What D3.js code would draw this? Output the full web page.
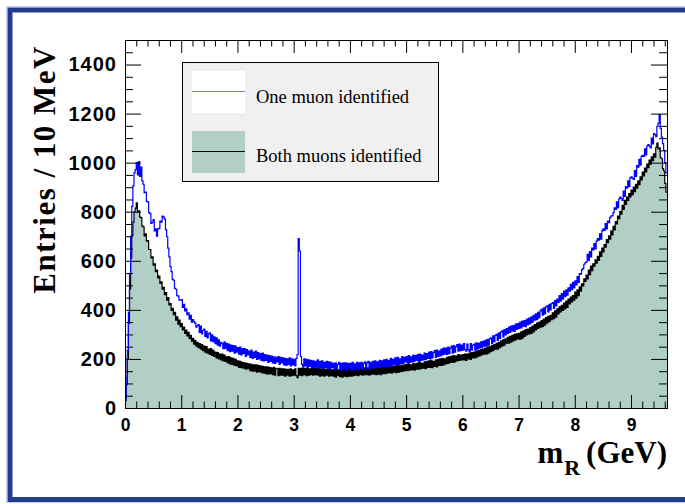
<!DOCTYPE html>
<html>
<head>
<meta charset="utf-8">
<script src="https://cdn.jsdelivr.net/npm/d3@7"></script>
<style>
  html, body { margin: 0; padding: 0; background: #ffffff; }
  svg { display: block; }
</style>
</head>
<body>
<svg id="chart" width="685" height="504"></svg>
<script>
// Invariant-mass spectrum m_R, 20 MeV wide bins starting at 0 GeV (values are entries per 10 MeV)
const binWidth = 0.02;
const xMax = 9.64;
const yMax = 1500;

const xTickValues = [0, 1, 2, 3, 4, 5, 6, 7, 8, 9];
const yTickValues = [0, 200, 400, 600, 800, 1000, 1200, 1400];

const seriesNames = ["One muon identified", "Both muons identified"];

// One muon identified (blue outline), one row per 0.1 GeV
const oneMuon = [
  40, 125, 235, 390, 545,
  700, 822, 905, 958, 972,
  1000, 950, 1004, 944, 982,
  926, 912, 878, 880, 842,
  840, 796, 792, 752, 758,
  768, 722, 730, 700, 730,
  732, 762, 758, 782, 778,
  770, 726, 698, 652, 616,
  576, 556, 524, 520, 488,
  484, 458, 456, 440, 440,
  442, 410, 422, 396, 404,
  380, 388, 362, 378, 350,
  360, 352, 346, 330, 336,
  340, 308, 334, 302, 316,
  322, 292, 312, 286, 302,
  306, 274, 298, 270, 290,
  262, 286, 256, 278, 252,
  268, 262, 242, 270, 242,
  264, 234, 260, 230, 256,
  232, 254, 224, 252, 228,
  246, 220, 248, 216, 242,
  222, 242, 210, 238, 216,
  232, 206, 236, 202, 228,
  206, 232, 198, 226, 200,
  222, 194, 224, 192, 218,
  194, 216, 186, 214, 190,
  212, 184, 208, 182, 206,
  188, 210, 178, 206, 184,
  204, 176, 202, 174, 200,
  178, 204, 172, 200, 176,
  198, 172, 202, 218, 690,
  640, 210, 178, 170, 200,
  172, 198, 166, 196, 170,
  194, 166, 192, 164, 190,
  168, 196, 162, 190, 166,
  192, 160, 186, 164, 190,
  162, 188, 158, 186, 164,
  182, 156, 184, 160, 178,
  186, 154, 182, 158, 184,
  156, 184, 152, 182, 160,
  182, 154, 186, 156, 180,
  158, 186, 154, 184, 162,
  186, 156, 182, 188, 158,
  184, 190, 158, 186, 164,
  190, 162, 192, 166, 188,
  166, 194, 164, 192, 172,
  196, 168, 198, 172, 194,
  172, 202, 170, 198, 178,
  204, 176, 206, 178, 200,
  180, 210, 182, 206, 188,
  210, 184, 214, 186, 208,
  188, 216, 190, 214, 194,
  218, 190, 220, 194, 216,
  196, 224, 198, 222, 202,
  228, 200, 230, 204, 226,
  234, 206, 236, 210, 232,
  212, 240, 216, 244, 220,
  244, 218, 248, 222, 244,
  252, 224, 254, 228, 250,
  258, 232, 260, 234, 256,
  236, 262, 238, 232, 260,
  238, 230, 262, 236, 256,
  260, 236, 266, 240, 264,
  244, 270, 246, 272, 252,
  276, 252, 280, 256, 282,
  286, 262, 294, 270, 296,
  300, 276, 306, 284, 310,
  314, 290, 320, 298, 324,
  304, 330, 308, 334, 314,
  336, 312, 342, 320, 344,
  324, 350, 326, 354, 334,
  356, 332, 362, 340, 366,
  344, 372, 350, 378, 358,
  384, 360, 390, 368, 396,
  402, 378, 408, 384, 412,
  416, 392, 422, 400, 426,
  430, 406, 438, 416, 444,
  430, 458, 436, 466, 444,
  476, 454, 482, 460, 490,
  476, 504, 482, 512, 490,
  518, 502, 536, 512, 548,
  546, 564, 568, 586, 592,
  596, 626, 602, 638, 616,
  652, 644, 670, 648, 680,
  690, 684, 710, 688, 722,
  730, 724, 752, 730, 762,
  756, 776, 782, 784, 796,
  816, 810, 840, 816, 852,
  860, 854, 846, 884, 862,
  902, 896, 926, 902, 938,
  942, 936, 932, 968, 944,
  988, 982, 1014, 990, 1026,
  1030, 1026, 1056, 1032, 1068,
  1074, 1068, 1060, 1100, 1076,
  1118, 1114, 1106, 1148, 1160,
  1196, 1140, 1104, 1078, 1050,
  1000, 958
];

// Both muons identified (filled, black outline), one row per 0.1 GeV
const bothMuons = [
  30, 95, 200, 345, 485,
  612, 704, 758, 800, 815,
  836, 800, 804, 778, 776,
  742, 738, 702, 710, 680,
  682, 646, 646, 612, 616,
  582, 588, 556, 562, 530,
  538, 508, 514, 484, 492,
  462, 470, 440, 450, 420,
  426, 398, 406, 380, 390,
  358, 372, 342, 358, 332,
  344, 318, 330, 304, 318,
  294, 308, 284, 296, 272,
  284, 260, 276, 252, 268,
  246, 262, 240, 258, 234,
  252, 228, 250, 224, 240,
  218, 242, 214, 236, 210,
  228, 204, 226, 200, 220,
  196, 220, 192, 216, 190,
  208, 184, 210, 180, 204,
  178, 202, 174, 198, 172,
  192, 166, 190, 164, 186,
  162, 184, 158, 182, 160,
  180, 152, 178, 150, 176,
  150, 176, 146, 174, 148,
  172, 144, 170, 142, 168,
  140, 168, 138, 166, 140,
  164, 136, 166, 134, 162,
  160, 132, 162, 134, 160,
  134, 160, 130, 158, 134,
  158, 130, 160, 132, 156,
  134, 160, 132, 124, 162,
  134, 162, 132, 164, 136,
  162, 132, 164, 134, 160,
  136, 164, 134, 162, 136,
  164, 134, 162, 130, 160,
  132, 162, 130, 158, 134,
  160, 130, 158, 132, 156,
  130, 158, 126, 156, 132,
  156, 128, 154, 126, 156,
  130, 156, 128, 158, 130,
  158, 130, 160, 132, 158,
  134, 162, 132, 160, 136,
  162, 134, 164, 136, 162,
  136, 164, 134, 166, 138,
  166, 138, 168, 136, 164,
  138, 166, 136, 168, 140,
  168, 140, 170, 142, 168,
  144, 172, 142, 170, 146,
  172, 144, 174, 146, 172,
  148, 174, 150, 176, 152,
  178, 152, 180, 154, 176,
  156, 182, 154, 180, 158,
  184, 158, 186, 160, 182,
  162, 188, 160, 190, 166,
  192, 166, 194, 164, 190,
  170, 196, 168, 198, 174,
  200, 174, 202, 176, 200,
  180, 206, 182, 208, 186,
  212, 186, 214, 188, 212,
  192, 218, 194, 216, 196,
  218, 196, 220, 194, 220,
  200, 224, 198, 226, 204,
  228, 204, 232, 208, 234,
  212, 238, 216, 240, 220,
  244, 220, 248, 224, 250,
  230, 254, 234, 258, 240,
  264, 240, 268, 246, 274,
  252, 278, 256, 282, 264,
  288, 264, 292, 268, 296,
  274, 300, 278, 302, 282,
  304, 280, 310, 284, 314,
  292, 320, 298, 322, 302,
  328, 304, 334, 310, 340,
  318, 346, 324, 350, 330,
  356, 332, 362, 338, 368,
  346, 374, 352, 378, 360,
  388, 364, 396, 370, 404,
  384, 412, 392, 418, 398,
  428, 404, 436, 410, 444,
  424, 452, 432, 458, 440,
  472, 448, 482, 458, 494,
  476, 506, 498, 526, 516,
  542, 526, 562, 544, 578,
  560, 588, 578, 604, 590,
  618, 602, 636, 618, 652,
  636, 666, 656, 686, 674,
  702, 688, 722, 706, 740,
  726, 760, 750, 782, 772,
  802, 790, 826, 810, 846,
  830, 860, 846, 874, 860,
  888, 870, 900, 882, 912,
  896, 926, 910, 942, 930,
  962, 946, 978, 962, 994,
  980, 1010, 994, 1024, 1008,
  1036, 1022, 1062, 1080, 1056,
  1060, 1020, 1016, 976, 966,
  916, 880
];

const colors = {
  one: "#0000ff",
  oneLegend: "#7474ff",
  both: "#000000",
  fill: "#b1cfc7",
  frame: "#233c8c",
  legendBg: "#f0f0f0"
};

const svg = d3.select("#chart");
const plot = { left: 125, right: 667, top: 40, bottom: 408 };

const x = d3.scaleLinear().domain([0, xMax]).range([plot.left, plot.right]);
const y = d3.scaleLinear().domain([0, yMax]).range([plot.bottom, plot.top]);

// canvas border
svg.append("rect")
  .attr("x", 0).attr("y", 0).attr("width", 685).attr("height", 504)
  .attr("fill", "#ffffff");
svg.append("rect")
  .attr("x", 6.5).attr("y", 6.5).attr("width", 720).attr("height", 496)
  .attr("fill", "none").attr("stroke", "#c9cdea").attr("stroke-width", 1);
svg.append("rect")
  .attr("x", 10).attr("y", 10).attr("width", 720).attr("height", 489.5)
  .attr("fill", "none").attr("stroke", colors.frame).attr("stroke-width", 5);

// plot background
svg.append("rect")
  .attr("x", plot.left + 0.5).attr("y", plot.top + 0.5)
  .attr("width", plot.right - plot.left).attr("height", plot.bottom - plot.top)
  .attr("fill", "#ffffff");

svg.append("clipPath").attr("id", "plotClip")
  .append("rect")
  .attr("x", plot.left + 0.5).attr("y", plot.top + 0.5)
  .attr("width", plot.right - plot.left).attr("height", plot.bottom - plot.top);

function toBins(values) {
  const pts = values.map((v, i) => ({ x0: i * binWidth, v }));
  pts.push({ x0: values.length * binWidth, v: values[values.length - 1] });
  return pts;
}

const oneBins = toBins(oneMuon);
const bothBins = toBins(bothMuons);

const stepLine = d3.line()
  .x(d => x(d.x0))
  .y(d => y(d.v))
  .curve(d3.curveStepAfter);

const stepArea = d3.area()
  .x(d => x(d.x0))
  .y0(y(0))
  .y1(d => y(d.v))
  .curve(d3.curveStepAfter);

const marks = svg.append("g").attr("clip-path", "url(#plotClip)");

marks.append("path").datum(bothBins)
  .attr("d", stepArea)
  .attr("fill", colors.fill);

marks.append("path").datum(bothBins)
  .attr("d", stepLine)
  .attr("fill", "none")
  .attr("stroke", colors.both)
  .attr("stroke-width", 1.2);

marks.append("path").datum(oneBins)
  .attr("d", stepLine)
  .attr("fill", "none")
  .attr("stroke", colors.one)
  .attr("stroke-width", 1.2);

// axes: major and minor ticks on all four sides
const minorX = d3.range(0, xMax, 0.2).filter(v => Math.abs(v - Math.round(v)) > 1e-6);
const minorY = d3.range(50, yMax + 1, 50).filter(v => v % 200 !== 0);

function styleAxis(g) {
  g.select(".domain").remove();
  g.selectAll(".tick line").attr("stroke", "#000").attr("stroke-width", 1);
  g.selectAll("text")
    .attr("fill", "#000")
    .attr("font-family", "'Liberation Sans', Arial, Helvetica, sans-serif")
    .attr("font-weight", "bold");
}

svg.append("g").attr("transform", `translate(0,${plot.bottom})`)
  .call(d3.axisBottom(x).tickValues(xTickValues).tickSize(-13).tickPadding(11).tickFormat(d3.format("d")))
  .call(styleAxis)
  .call(g => g.selectAll("text").attr("font-size", 17.5));

svg.append("g").attr("transform", `translate(0,${plot.bottom})`)
  .call(d3.axisBottom(x).tickValues(minorX).tickSize(-6.5).tickFormat(""))
  .call(styleAxis);

svg.append("g").attr("transform", `translate(0,${plot.top})`)
  .call(d3.axisTop(x).tickValues(xTickValues).tickSize(-13).tickFormat(""))
  .call(styleAxis);

svg.append("g").attr("transform", `translate(0,${plot.top})`)
  .call(d3.axisTop(x).tickValues(minorX).tickSize(-6.5).tickFormat(""))
  .call(styleAxis);

svg.append("g").attr("transform", `translate(${plot.left},0)`)
  .call(d3.axisLeft(y).tickValues(yTickValues).tickSize(-16).tickPadding(8).tickFormat(d3.format("d")))
  .call(styleAxis)
  .call(g => g.selectAll("text").attr("font-size", 20).style("letter-spacing", "1px"));

svg.append("g").attr("transform", `translate(${plot.left},0)`)
  .call(d3.axisLeft(y).tickValues(minorY).tickSize(-8).tickFormat(""))
  .call(styleAxis);

svg.append("g").attr("transform", `translate(${plot.right},0)`)
  .call(d3.axisRight(y).tickValues(yTickValues).tickSize(-16).tickFormat(""))
  .call(styleAxis);

svg.append("g").attr("transform", `translate(${plot.right},0)`)
  .call(d3.axisRight(y).tickValues(minorY).tickSize(-8).tickFormat(""))
  .call(styleAxis);

// frame
svg.append("rect")
  .attr("x", plot.left + 0.5).attr("y", plot.top + 0.5)
  .attr("width", plot.right - plot.left).attr("height", plot.bottom - plot.top)
  .attr("fill", "none").attr("stroke", "#000").attr("stroke-width", 1);

// axis titles
const serif = "'Liberation Serif', 'Times New Roman', Times, serif";

svg.append("text")
  .attr("transform", "translate(55,45) rotate(-90)")
  .attr("text-anchor", "end")
  .attr("font-family", serif)
  .attr("font-weight", "bold")
  .attr("font-size", 31)
  .style("letter-spacing", "1.5px")
  .attr("fill", "#000")
  .text("Entries / 10 MeV");

const xTitle = svg.append("text")
  .attr("x", 667).attr("y", 463)
  .attr("text-anchor", "end")
  .attr("font-family", serif)
  .attr("font-weight", "bold")
  .attr("font-size", 31)
  .attr("fill", "#000");
xTitle.append("tspan").text("m");
xTitle.append("tspan").attr("font-size", 22).attr("dy", 12).attr("dx", 1).text("R");
xTitle.append("tspan").attr("dy", -12).attr("dx", 6).text("(GeV)");

// legend
const legend = svg.append("g");
legend.append("rect")
  .attr("x", 182.5).attr("y", 62.5).attr("width", 256).attr("height", 119)
  .attr("fill", colors.legendBg).attr("stroke", "#000").attr("stroke-width", 1);

const entries = [
  { name: seriesNames[0], box: "#ffffff", line: colors.oneLegend, top: 71, lineY: 91.5, textY: 103 },
  { name: seriesNames[1], box: colors.fill, line: colors.both, top: 131, lineY: 151.5, textY: 162 }
];

entries.forEach(e => {
  legend.append("rect")
    .attr("x", 192).attr("y", e.top).attr("width", 53).attr("height", 42)
    .attr("fill", e.box);
  legend.append("line")
    .attr("x1", 192).attr("x2", 245).attr("y1", e.lineY).attr("y2", e.lineY)
    .attr("stroke", e.line).attr("stroke-width", 1.2);
  legend.append("text")
    .attr("x", 256).attr("y", e.textY)
    .attr("font-family", serif)
    .attr("font-size", 18.5)
    .attr("fill", "#000")
    .text(e.name);
});
</script>
</body>
</html>
